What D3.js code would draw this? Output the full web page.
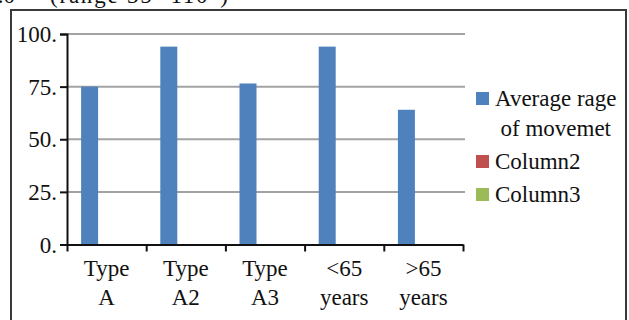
<!DOCTYPE html>
<html>
<head>
<meta charset="utf-8">
<script src="https://cdn.jsdelivr.net/npm/d3@7"></script>
<style>
  html, body { margin: 0; padding: 0; background: #fff; }
  svg { display: block; }
  text { font-family: "Liberation Serif", "Times New Roman", serif; fill: #111; }
</style>
</head>
<body>
<svg id="chart" width="629" height="320"></svg>
<script>
// Categories on the x axis (wrapped on spaces)
const categories = ["Type A", "Type A2", "Type A3", "<65 years", ">65 years"];

// Series names and values
const seriesNames = ["Average rage of movemet", "Column2", "Column3"];
const avgRange = [75, 94, 76.5, 94, 64];
const column2 = [null, null, null, null, null];
const column3 = [null, null, null, null, null];
const seriesColors = ["#4F81BD", "#C0504D", "#9BBB59"];

// Y axis ticks and their labels
const yTicks = [0, 25, 50, 75, 100];
const yTickLabels = ["0.", "25.", "50.", "75.", "100."];

const series = [avgRange, column2, column3];

const svg = d3.select("#chart");
const FONT = 23;

// Chart frame
svg.append("rect")
  .attr("x", 11).attr("y", 10)
  .attr("width", 615).attr("height", 340)
  .attr("fill", "#fff")
  .attr("stroke", "#3a3a3a")
  .attr("stroke-width", 2);

// Caption text above the frame (mostly cut off at the top edge)
svg.append("text").attr("x", 15).attr("y", 3)
  .attr("text-anchor", "end").attr("font-size", FONT).text("3.0");
svg.append("text").attr("x", 50).attr("y", 3)
  .attr("font-size", FONT).attr("textLength", 178).text("(range 35- 110°)");

const plotLeft = 67, plotRight = 463, plotTop = 34, plotBottom = 244.5;

const x = d3.scaleBand().domain(categories).range([plotLeft, plotRight]).padding(0);
const xs = d3.scaleBand().domain(seriesNames).range([0, x.bandwidth()])
  .paddingInner(0).paddingOuter(0.83);
const y = d3.scaleLinear().domain([0, 100]).range([plotBottom, plotTop]);

// Horizontal gridlines
svg.append("g").selectAll("line")
  .data(yTicks.filter(d => d > 0))
  .join("line")
  .attr("x1", plotLeft).attr("x2", plotRight + 2)
  .attr("y1", d => y(d)).attr("y2", d => y(d))
  .attr("stroke", "#a3a3a3")
  .attr("stroke-width", 2);

// Bars
series.forEach((vals, si) => {
  svg.append("g").selectAll("rect")
    .data(vals.map((v, i) => ({ cat: categories[i], v })).filter(d => d.v != null))
    .join("rect")
    .attr("x", d => x(d.cat) + xs(seriesNames[si]))
    .attr("width", xs.bandwidth())
    .attr("y", d => y(d.v))
    .attr("height", d => y(0) - y(d.v))
    .attr("fill", seriesColors[si]);
});

// Y axis
const yAxis = d3.axisLeft(y)
  .tickValues(yTicks)
  .tickFormat((d, i) => yTickLabels[i])
  .tickSize(7)
  .tickPadding(3);
const gy = svg.append("g").attr("transform", `translate(${plotLeft},0)`).call(yAxis);
gy.select(".domain").attr("stroke", "#111").attr("stroke-width", 2);
gy.selectAll(".tick line").attr("stroke", "#111").attr("stroke-width", 2);
gy.selectAll(".tick text")
  .attr("font-family", "Liberation Serif, Times New Roman, serif")
  .attr("font-size", FONT)
  .attr("fill", "#111")
  .attr("dy", "0.33em");

// X axis: tick marks at category boundaries
const xb = d3.scaleLinear().domain([0, categories.length]).range([plotLeft, plotRight]);
const xAxis = d3.axisBottom(xb)
  .tickValues(d3.range(categories.length + 1))
  .tickFormat("")
  .tickSizeInner(7)
  .tickSizeOuter(0);
const gx = svg.append("g").attr("transform", `translate(0,${plotBottom})`).call(xAxis);
gx.select(".domain").attr("stroke", "#111").attr("stroke-width", 2);
gx.selectAll(".tick line").attr("stroke", "#111").attr("stroke-width", 2);

// Category labels (two lines)
const catLabels = svg.append("g").selectAll("text")
  .data(categories)
  .join("text")
  .attr("font-size", FONT)
  .attr("text-anchor", "middle")
  .attr("x", d => x(d) + x.bandwidth() / 2)
  .attr("y", 276);
catLabels.each(function(d) {
  const el = d3.select(this);
  d.split(" ").forEach((w, i) => {
    el.append("tspan")
      .attr("x", x(d) + x.bandwidth() / 2)
      .attr("dy", i === 0 ? 0 : 29)
      .text(w);
  });
});

// Legend
const legendLines = [["Average rage", "of movemet"], ["Column2"], ["Column3"]];
let base = 106;
legendLines.forEach((lines, i) => {
  svg.append("rect")
    .attr("x", 476).attr("y", base - 14)
    .attr("width", 13).attr("height", 13)
    .attr("fill", seriesColors[i]);
  const t = svg.append("text").attr("font-size", FONT).attr("x", 495).attr("y", base);
  const first = t.append("tspan").attr("x", 495).text(lines[0]);
  if (lines.length > 1) {
    const w = first.node().getComputedTextLength();
    const cx = 495 + w / 2;
    t.attr("text-anchor", "middle");
    first.attr("x", cx);
    lines.slice(1).forEach(l => {
      t.append("tspan").attr("x", cx).attr("dy", 30).text(l);
    });
  }
  base += (lines.length - 1) * 30 + 33;
});
</script>
</body>
</html>
